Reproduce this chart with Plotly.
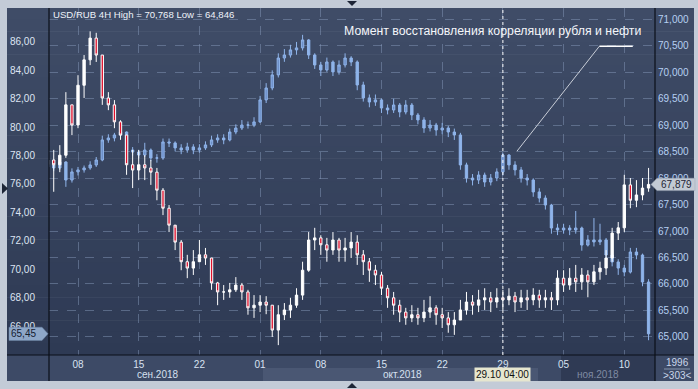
import plotly.graph_objects as go

# ---------------- data ----------------
# candle index: 2 candles per trading day, week ticks every 10 candles
white_open_first = 68.25
white_close = [68.34, 68.25, 68.43, 69.38, 69.00, 69.75, 70.23, 70.64, 70.32, 69.51,
               69.38, 69.06, 68.81, 68.25, 68.15, 68.25, 68.19, 68.11, 67.77, 67.43,
               67.11, 66.79, 66.42, 66.30, 66.42, 66.55, 66.49, 66.02, 65.85, 65.85,
               65.89, 65.98, 65.85, 65.55, 65.60, 65.66, 65.60, 65.13, 65.42, 65.51,
               65.60, 65.79, 66.26, 66.83, 66.87, 66.74, 66.64, 66.83, 66.64, 66.68,
               66.79, 66.55, 66.42, 66.26, 66.17, 65.92, 65.74, 65.60, 65.47, 65.36,
               65.42, 65.36, 65.47, 65.55, 65.42, 65.36, 65.23, 65.32, 65.51, 65.66,
               65.60, 65.70, 65.74, 65.66, 65.74, 65.70, 65.77, 65.66, 65.74, 65.70,
               65.79, 65.70, 65.74, 65.70, 66.11, 65.98, 66.11, 66.04, 66.17, 66.04,
               66.23, 66.30, 66.49, 66.96, 67.06, 67.87, 67.58, 67.68, 67.81, 67.879]
white_high = [68.53, 68.53, 68.62, 69.62, 69.38, 69.94, 70.32, 70.768, 70.74, 70.32,
              69.62, 69.47, 69.09, 68.81, 68.53, 68.53, 68.43, 68.34, 68.19, 67.81,
              67.49, 67.06, 66.83, 66.55, 66.64, 66.83, 66.68, 66.49, 66.04, 65.98,
              66.02, 66.13, 66.02, 65.89, 65.79, 65.79, 65.77, 65.60, 65.60, 65.64,
              65.74, 65.92, 66.42, 66.98, 67.06, 66.92, 66.87, 66.98, 66.87, 66.87,
              66.98, 66.92, 66.64, 66.49, 66.36, 66.23, 65.98, 65.85, 65.70, 65.55,
              65.60, 65.55, 65.70, 65.77, 65.60, 65.55, 65.47, 65.47, 65.70, 65.85,
              65.79, 65.89, 65.92, 65.85, 65.92, 65.89, 65.92, 65.85, 65.89, 65.89,
              65.92, 65.89, 65.89, 65.85, 66.26, 66.26, 66.30, 66.36, 66.30, 66.26,
              66.36, 66.42, 66.64, 67.06, 67.17, 68.06, 68.00, 67.96, 68.00, 68.19]
white_low = [68.15, 67.74, 68.11, 68.38, 68.81, 68.94, 69.51, 70.13, 70.19, 69.38,
             69.28, 68.94, 68.72, 68.06, 67.81, 67.96, 67.96, 67.87, 67.58, 67.30,
             66.98, 66.64, 66.26, 66.11, 66.17, 66.42, 66.36, 65.89, 65.60, 65.70,
             65.74, 65.85, 65.70, 65.42, 65.36, 65.47, 65.43, 65.00, 64.846, 65.32,
             65.36, 65.55, 65.70, 66.23, 66.64, 66.55, 66.42, 66.55, 66.42, 66.42,
             66.49, 66.36, 66.17, 66.04, 65.98, 65.79, 65.55, 65.42, 65.28, 65.23,
             65.28, 65.23, 65.28, 65.36, 65.23, 65.17, 65.08, 65.04, 65.32, 65.42,
             65.42, 65.47, 65.51, 65.47, 65.55, 65.51, 65.60, 65.47, 65.55, 65.51,
             65.60, 65.55, 65.55, 65.51, 65.60, 65.85, 65.89, 65.85, 65.89, 65.75,
             65.98, 66.08, 66.17, 66.42, 66.83, 66.98, 67.43, 67.45, 67.58, 67.74]

blue_open_first = 77.2
blue_close = [77.34, 77.13, 77.55, 76.28, 76.85, 76.99, 77.13, 77.34, 77.69, 79.10,
              79.24, 79.45, 79.66, 78.39, 78.25, 78.04, 78.39, 77.83, 77.83, 78.96,
              78.89, 78.54, 78.39, 78.61, 78.39, 78.54, 78.75, 79.10, 79.24, 79.10,
              79.66, 79.94, 80.15, 80.15, 80.37, 81.92, 82.76, 83.68, 84.87, 85.08,
              85.44, 85.58, 86.14, 85.08, 84.38, 84.03, 84.59, 83.89, 84.38, 84.87,
              84.59, 82.97, 82.06, 81.77, 81.92, 81.35, 81.21, 81.56, 81.07, 81.56,
              80.86, 80.51, 79.94, 80.15, 79.80, 79.94, 79.66, 79.45, 77.34, 76.42,
              76.28, 76.63, 76.14, 76.42, 76.85, 78.04, 77.34, 76.99, 76.42, 76.28,
              75.44, 75.01, 74.52, 72.90, 72.76, 72.90, 72.76, 72.90, 71.70, 72.06,
              71.92, 72.06, 71.00, 70.51, 70.08, 69.80, 71.21, 71.00, 69.10, 65.45]
blue_high = [77.6, 77.5, 77.8, 77.6, 77.1, 77.2, 77.3, 77.6, 77.9, 79.4,
             79.5, 79.6, 80.0, 79.7, 78.6, 78.4, 78.9, 78.5, 78.1, 79.2,
             79.2, 79.0, 78.8, 78.9, 78.8, 78.8, 79.0, 79.4, 79.5, 79.5,
             79.9, 80.2, 80.5, 80.4, 80.7, 82.2, 83.1, 84.0, 85.2, 85.5,
             85.8, 86.0, 86.5, 86.2, 85.2, 84.6, 84.9, 84.7, 84.7, 85.2,
             85.0, 84.7, 83.2, 82.3, 82.3, 82.0, 81.6, 82.0, 81.7, 81.9,
             81.7, 81.0, 80.7, 80.5, 80.3, 80.3, 80.1, 79.9, 79.6, 77.5,
             76.7, 76.9, 76.8, 76.7, 77.1, 78.2, 78.1, 77.6, 77.2, 76.7,
             76.4, 75.7, 75.2, 74.6, 73.2, 73.2, 73.1, 74.1, 73.0, 72.4,
             73.6, 73.2, 72.2, 71.2, 70.7, 70.3, 71.5, 71.5, 71.1, 69.3]
blue_low = [77.0, 76.9, 77.0, 75.8, 76.1, 76.6, 76.8, 77.0, 77.2, 77.6,
            78.9, 79.0, 79.3, 78.2, 78.0, 77.8, 77.9, 77.6, 77.5, 77.7,
            78.6, 78.3, 78.1, 78.2, 78.1, 78.2, 78.4, 78.6, 78.9, 78.8,
            79.0, 79.5, 79.8, 79.9, 80.0, 80.3, 81.7, 82.6, 83.5, 84.6,
            84.9, 85.1, 85.4, 84.8, 84.1, 83.6, 83.9, 83.6, 83.7, 84.2,
            84.3, 82.6, 81.8, 81.4, 81.5, 81.0, 80.9, 81.0, 80.7, 80.9,
            80.5, 80.2, 79.6, 79.7, 79.4, 79.5, 79.3, 79.1, 77.0, 76.1,
            75.9, 76.0, 75.8, 75.9, 76.2, 76.6, 77.0, 76.6, 76.1, 75.9,
            75.1, 74.7, 74.2, 72.5, 72.4, 72.5, 72.4, 72.5, 71.3, 71.6,
            71.6, 71.7, 70.7, 70.2, 69.6, 69.5, 69.7, 70.7, 68.8, 65.0]

tick_pos = [5, 15, 25, 35, 45, 55, 65, 75, 85, 95]
tick_text = ['08', '15', '22', '01', '08', '15', '22', '29', '05', '10']
month_labels = ['сен.2018', 'окт.2018', 'ноя.2018']
month_pos = [18.2, 58.4, 90.7]
cursor_index = 75
cursor_label = '29.10 04:00'
left_ticks = [66, 68, 70, 72, 74, 76, 78, 80, 82, 84, 86]
right_ticks = [65.0, 65.5, 66.0, 66.5, 67.0, 67.5, 68.0, 68.5, 69.0, 69.5, 70.0, 70.5, 71.0]
title_text = 'USD/RUB 4H High = 70,768 Low = 64,846'
note_text = 'Момент восстановления корреляции рубля и нефти'
note_x = [77.3, 90.9, 96.4]
note_y = [78.3, 85.7, 85.7]
bars_info = ['1996', '>303<']

# ---------------- geometry helpers ----------------
W, H = 698, 389
L, R, T, B = 49, 655, 8, 355


def px(x):
    return (x - L) / (R - L)


def py(y):
    return (B - y) / (B - T)


x_idx = list(range(len(white_close)))
white_open = [white_open_first] + white_close[:-1]
blue_open = [blue_open_first] + blue_close[:-1]

fig = go.Figure()
fig.add_trace(go.Candlestick(
    x=x_idx, open=blue_open, high=blue_high, low=blue_low, close=blue_close,
    yaxis='y',
    increasing=dict(line=dict(color='#8fb4ea', width=1), fillcolor='#6d8fc8'),
    decreasing=dict(line=dict(color='#8fb4ea', width=1), fillcolor='#8fb4ea'),
    whiskerwidth=0, hoverinfo='skip', showlegend=False))
fig.add_trace(go.Candlestick(
    x=x_idx, open=white_open, high=white_high, low=white_low, close=white_close,
    yaxis='y2',
    increasing=dict(line=dict(color='#ffffff', width=1), fillcolor='#ffffff'),
    decreasing=dict(line=dict(color='#ffffff', width=1), fillcolor='#e0102c'),
    whiskerwidth=0, hoverinfo='skip', showlegend=False))

shapes = []
# gradient background
N = 30
top_c = (63, 76, 103)
bot_c = (46, 58, 84)
for k in range(N):
    f = k / (N - 1)
    c = tuple(int(round(top_c[j] + (bot_c[j] - top_c[j]) * f)) for j in range(3))
    y0 = T + (B - T) * k / N
    y1 = T + (B - T) * (k + 1) / N
    shapes.append(dict(type='rect', xref='paper', yref='paper', x0=px(7), x1=px(694),
                       y0=py(y1 + 0.5), y1=py(y0), fillcolor='rgb(%d,%d,%d)' % c,
                       line=dict(width=0), layer='below'))
# bottom axis panel
shapes.append(dict(type='rect', xref='paper', yref='paper', x0=px(7), x1=px(694),
                   y0=py(381), y1=py(B), fillcolor='#3d4a66', line=dict(width=0), layer='below'))
shapes.append(dict(type='rect', xref='paper', yref='paper', x0=px(263), x1=px(538),
                   y0=py(381), y1=py(368), fillcolor='#4a5773', line=dict(width=0), layer='below'))
shapes.append(dict(type='rect', xref='paper', yref='paper', x0=px(561), x1=px(R),
                   y0=py(381), y1=py(B), fillcolor='#2f3a54', line=dict(width=0), layer='below'))
# frame lines
for (x0, y0, x1, y1) in [(L, T, L, 381), (R, T, R, 381), (7, B, 694, B)]:
    shapes.append(dict(type='line', xref='paper', yref='paper', x0=px(x0), x1=px(x1),
                       y0=py(y0), y1=py(y1), line=dict(color='#0b0f18', width=1.2), layer='above'))
# right info separator
shapes.append(dict(type='line', xref='paper', yref='paper', x0=px(664), x1=px(690),
                   y0=py(369), y1=py(369), line=dict(color='#8796ae', width=1)))
# cursor line
shapes.append(dict(type='line', xref='x', yref='paper', x0=cursor_index, x1=cursor_index,
                   y0=0, y1=1, line=dict(color='#ffffff', width=1, dash='dot'), layer='above'))
# annotation leader line
shapes.append(dict(type='line', xref='x', yref='y', x0=note_x[0], y0=note_y[0],
                   x1=note_x[1], y1=note_y[1], line=dict(color='#c9ced8', width=1)))
shapes.append(dict(type='line', xref='x', yref='y', x0=note_x[1], y0=note_y[1],
                   x1=note_x[2], y1=note_y[2], line=dict(color='#ffffff', width=1.6)))
# last value labels
wl = white_close[-1]
hw = 6.2 / 53.0
shapes.append(dict(type='path', xref='paper', yref='y2',
                   path='M %f,%f L %f,%f L %f,%f L %f,%f L %f,%f Z' % (
                       px(651), wl, px(657), wl + hw, px(695), wl + hw, px(695), wl - hw, px(657), wl - hw),
                   fillcolor='#c3cad4', line=dict(color='#9aa4b4', width=0.5), layer='above'))
bl = blue_close[-1]
hb = 6.6 / 14.2
shapes.append(dict(type='path', xref='paper', yref='y',
                   path='M %f,%f L %f,%f L %f,%f L %f,%f L %f,%f Z' % (
                       px(9), bl + hb, px(42), bl + hb, px(48), bl, px(42), bl - hb, px(9), bl - hb),
                   fillcolor='#8ea7c8', line=dict(color='#6f86a6', width=0.5), layer='above'))
# small triangles on the frame
for path in ['M %f,%f L %f,%f L %f,%f Z' % (px(347), py(1), px(357), py(1), px(352), py(6)),
             'M %f,%f L %f,%f L %f,%f Z' % (px(347), py(388), px(357), py(388), px(352), py(383)),
             'M %f,%f L %f,%f L %f,%f Z' % (px(2), py(183), px(2), py(194), px(8), py(188.5))]:
    shapes.append(dict(type='path', xref='paper', yref='paper', path=path,
                       fillcolor='#1d2536', line=dict(width=0)))

annotations = [
    dict(text=title_text, xref='paper', yref='paper', x=px(51), y=py(14.5), xanchor='left',
         yanchor='middle', showarrow=False, font=dict(size=9.6, color='#eef2fa')),
    dict(text=note_text, xref='paper', yref='paper', x=px(342), y=py(31), xanchor='left',
         yanchor='middle', showarrow=False, font=dict(size=12.3, color='#f4f6fa')),
    dict(text=cursor_label, xref='x', yref='paper', x=cursor_index, y=py(374), xanchor='center',
         yanchor='middle', showarrow=False, bgcolor='#e6e6cf', borderpad=1,
         font=dict(size=10, color='#101010')),
    dict(text=('%.3f' % wl).replace('.', ','), xref='paper', yref='y2', x=px(676), y=wl,
         xanchor='center', yanchor='middle', showarrow=False, font=dict(size=10, color='#1f2534')),
    dict(text=('%.2f' % bl).replace('.', ','), xref='paper', yref='y', x=px(9), y=bl,
         xanchor='left', yanchor='middle', showarrow=False, font=dict(size=10, color='#142030')),
    dict(text=bars_info[0], xref='paper', yref='paper', x=px(677), y=py(362.5), xanchor='center',
         yanchor='middle', showarrow=False, font=dict(size=10, color='#cad6ea')),
    dict(text=bars_info[1], xref='paper', yref='paper', x=px(677), y=py(375.5), xanchor='center',
         yanchor='middle', showarrow=False, font=dict(size=10, color='#cad6ea')),
]
month_colors = ['#d6e0f0', '#d6e0f0', '#7f8ba3']
for lab, pos, col in zip(month_labels, month_pos, month_colors):
    annotations.append(dict(text=lab, xref='x', yref='paper', x=pos, y=py(374), xanchor='center',
                            yanchor='middle', showarrow=False, font=dict(size=10, color=col)))

grid_col = 'rgba(140,160,192,0.45)'
fig.update_layout(
    width=W, height=H,
    margin=dict(l=L, r=W - R, t=T, b=H - B, autoexpand=False),
    paper_bgcolor='#c3cbd7', plot_bgcolor='rgba(0,0,0,0)',
    separators=', ',
    font=dict(family='Liberation Sans, Arial, sans-serif', size=10, color='#d8e0f0'),
    showlegend=False, boxgap=0.45,
    xaxis=dict(range=[0.22, 100.06], tickvals=tick_pos, ticktext=tick_text, showgrid=True,
               gridcolor=grid_col, griddash='dash', gridwidth=1, ticks='', zeroline=False,
               showline=False, rangeslider=dict(visible=False), ticklabelstandoff=2,
               automargin=False, tickfont=dict(size=10, color='#d8e2f2')),
    yaxis=dict(range=[63.96, 88.39], tickvals=left_ticks, tickformat='.2f', showgrid=False,
               ticks='', zeroline=False, showline=False, ticklabelstandoff=13, automargin=False,
               tickfont=dict(size=10, color='#dde4f2')),
    yaxis2=dict(range=[64.66, 71.208], tickvals=right_ticks, tickformat='.3f', overlaying='y',
                side='right', showgrid=True, gridcolor=grid_col, griddash='dash', gridwidth=1,
                ticks='', zeroline=False, showline=False, ticklabelstandoff=2, automargin=False,
                tickfont=dict(size=10, color='#b6d0f2')),
    shapes=shapes, annotations=annotations,
)

fig.write_html('out.html', config={'displayModeBar': False},
               post_script="document.body.style.margin='0';document.body.style.overflow='hidden';")
